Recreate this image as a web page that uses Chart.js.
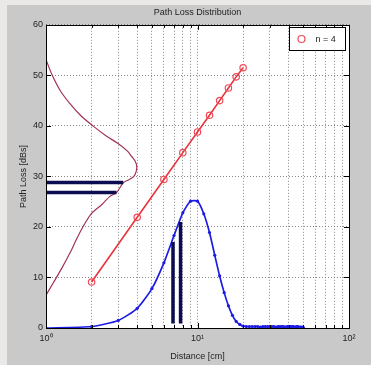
<!DOCTYPE html>
<html>
<head>
<meta charset="utf-8">
<script src="https://cdn.jsdelivr.net/npm/chart.js@4.4.1/dist/chart.umd.min.js"></script>
<style>
  html, body { margin: 0; padding: 0; background: #ebe8e8; }
  #wrap { width: 371px; height: 365px; }
</style>
</head>
<body>
<div id="wrap"><canvas id="pathLossChart" width="371" height="365"></canvas></div>
<script>
// path loss model, n = 4
const redDist = [2, 4, 6, 8, 10, 12, 14, 16, 18, 20];
const redLoss = [9.1, 21.9, 29.4, 34.7, 38.8, 42.1, 45.0, 47.5, 49.7, 51.5];

// distance distribution (blue)
const blueDist = [1, 2, 3, 4, 5, 6, 7, 8, 9, 10,
    11, 12, 13, 14, 15, 16, 17, 18, 19, 20,
    21, 22, 23, 24, 25, 26, 27, 28, 29, 30,
    31, 32, 33, 34, 35, 36, 37, 38, 39, 40,
    41, 42, 43, 44, 45, 46, 47, 48, 49, 50];
const blueVal = [0.0, 0.3, 1.5, 3.9, 7.8, 12.9, 18.3, 22.8, 25.1, 25.1,
    22.6, 18.9, 14.4, 10.3, 7.0, 4.4, 2.5, 1.3, 0.7, 0.4,
    0.3, 0.3, 0.3, 0.3, 0.3, 0.2, 0.3, 0.3, 0.3, 0.3,
    0.3, 0.3, 0.2, 0.3, 0.3, 0.3, 0.3, 0.2, 0.3, 0.3,
    0.3, 0.3, 0.3, 0.2, 0.3, 0.3, 0.2, 0.2, 0.2, 0.1];

// path loss distribution (purple), drawn sideways
const purpleLoss = [53.1, 50.0, 47.0, 44.5, 42.0, 40.0, 38.0, 36.5, 35.0, 34.0,
    33.0, 32.0, 31.0, 30.0, 29.4, 28.8, 26.8, 26.0, 24.5, 22.7,
    20.0, 17.4, 15.4, 12.0, 9.0, 6.5];
const purpleDist = [1.00, 1.10, 1.24, 1.43, 1.70, 2.04, 2.50, 2.99, 3.45, 3.66,
    3.88, 3.97, 3.94, 3.80, 3.55, 3.25, 2.92, 2.63, 2.35, 2.00,
    1.75, 1.58, 1.47, 1.28, 1.12, 1.00];

// markers
const hBarLoss = [28.8, 26.8];
const hBarReach = [3.23, 2.92];
const vBarDist = [6.89, 7.73];
const vBarTop = [17.0, 21.0];
const vBarBase = 0.9;

const xTickValues = [1, 2, 3, 4, 5, 6, 7, 8, 9, 10, 20, 30, 40, 50, 60, 70, 80, 90, 100];
const xTickLabels = { 1: '10\u2070', 10: '10\u00b9', 100: '10\u00b2' };
const yTickValues = [0, 10, 20, 30, 40, 50, 60];

const fontFamily = "'Liberation Sans', Arial, sans-serif";
const navy = '#0c0c50';

const toPoints = (xs, ys) => xs.map((v, i) => ({ x: v, y: ys[i] }));

const datasets = [];
hBarLoss.forEach((l, i) => {
    datasets.push({
        data: [{ x: 1, y: l }, { x: hBarReach[i], y: l }],
        borderColor: navy, borderWidth: 3.5, pointRadius: 0, borderCapStyle: 'butt'
    });
});
vBarDist.forEach((d, i) => {
    datasets.push({
        data: [{ x: d, y: vBarBase }, { x: d, y: vBarTop[i] }],
        borderColor: navy, borderWidth: 3.5, pointRadius: 0, borderCapStyle: 'butt'
    });
});
datasets.unshift({
    label: 'n = 4',
    data: toPoints(redDist, redLoss),
    borderColor: '#e8333a',
    borderWidth: 1.6,
    pointRadius: 3.2,
    pointBorderColor: '#ee4a5a',
    pointBackgroundColor: 'rgba(0,0,0,0)',
    pointBorderWidth: 1.2
});
datasets.push({
    data: toPoints(blueDist, blueVal),
    borderColor: '#1c1ce4',
    borderWidth: 1.7,
    pointRadius: 1.6,
    pointBorderWidth: 0,
    pointBackgroundColor: '#1c1ce4',
    tension: 0.2
});
datasets.push({
    data: toPoints(purpleDist, purpleLoss),
    borderColor: '#a03454',
    borderWidth: 1.2,
    pointRadius: 0,
    tension: 0.3
});

const backdrop = {
    id: 'backdrop',
    beforeDraw(chart) {
        const { ctx, chartArea: a } = chart;
        ctx.save();
        ctx.fillStyle = '#ebe8e8';
        ctx.fillRect(0, 0, chart.width, chart.height);
        ctx.fillStyle = '#c9c9c9';
        ctx.fillRect(7, 5, chart.width - 7, chart.height - 5);
        ctx.fillStyle = '#ffffff';
        ctx.fillRect(a.left, a.top, a.right - a.left, a.bottom - a.top);
        ctx.restore();
    }
};

const frameAndTicks = {
    id: 'frameAndTicks',
    afterDatasetsDraw(chart) {
        const { ctx, chartArea: a, scales: { x, y } } = chart;
        ctx.save();
        ctx.strokeStyle = '#000';
        ctx.lineWidth = 1;
        ctx.beginPath();
        x.ticks.forEach(t => {
            const px = Math.round(x.getPixelForValue(t.value)) + 0.5;
            const len = xTickLabels[t.value] ? 5 : 3;
            ctx.moveTo(px, a.bottom); ctx.lineTo(px, a.bottom - len);
            ctx.moveTo(px, a.top); ctx.lineTo(px, a.top + len);
        });
        y.ticks.forEach(t => {
            const py = Math.round(y.getPixelForValue(t.value)) + 0.5;
            ctx.moveTo(a.left, py); ctx.lineTo(a.left + 5, py);
            ctx.moveTo(a.right, py); ctx.lineTo(a.right - 5, py);
        });
        ctx.stroke();
        ctx.strokeRect(Math.round(a.left) + 0.5, Math.round(a.top) + 0.5,
            Math.round(a.right - a.left), Math.round(a.bottom - a.top));

        // legend box
        const ds = chart.data.datasets[0];
        const bx = Math.round(a.right) - 59.5, by = Math.round(a.top) + 2.5, bw = 56, bh = 23;
        ctx.fillStyle = '#fff';
        ctx.fillRect(bx, by, bw, bh);
        ctx.strokeRect(bx, by, bw, bh);
        ctx.beginPath();
        ctx.strokeStyle = ds.pointBorderColor;
        ctx.lineWidth = 1.2;
        ctx.arc(bx + 12, by + bh / 2, 3.5, 0, Math.PI * 2);
        ctx.stroke();
        ctx.fillStyle = '#222';
        ctx.font = '9px ' + fontFamily;
        ctx.textBaseline = 'middle';
        ctx.fillText(ds.label, bx + 26, by + bh / 2 + 0.5);
        ctx.restore();
    }
};

new Chart(document.getElementById('pathLossChart'), {
    type: 'line',
    data: { datasets: datasets },
    plugins: [backdrop, frameAndTicks],
    options: {
        responsive: false,
        animation: false,
        layout: { padding: { left: 0, right: 22, top: 0, bottom: 0 } },
        plugins: {
            legend: { display: false },
            tooltip: { enabled: false },
            title: {
                display: true,
                text: 'Path Loss Distribution',
                fullSize: false,
                color: '#222',
                font: { family: fontFamily, size: 9, weight: 'normal' },
                padding: { top: 7, bottom: 7 }
            }
        },
        scales: {
            x: {
                type: 'logarithmic',
                min: 1,
                max: 100,
                afterFit: s => { s.height = 37; },
                afterBuildTicks: s => { s.ticks = xTickValues.map(v => ({ value: v })); },
                ticks: {
                    autoSkip: false,
                    maxRotation: 0,
                    padding: 5,
                    color: '#222',
                    font: { family: fontFamily, size: 9 },
                    callback: v => xTickLabels[v] || ''
                },
                grid: { color: '#6a6a6a', lineWidth: 0.8, drawTicks: false },
                border: { display: false, dash: [1, 2] },
                title: {
                    display: true,
                    text: 'Distance [cm]',
                    color: '#222',
                    font: { family: fontFamily, size: 9 },
                    padding: { top: 0, bottom: 2.6 }
                }
            },
            y: {
                type: 'linear',
                min: 0,
                max: 60,
                afterFit: s => { s.width = 46; },
                afterBuildTicks: s => { s.ticks = yTickValues.map(v => ({ value: v })); },
                ticks: {
                    padding: 3,
                    color: '#222',
                    font: { family: fontFamily, size: 9 }
                },
                grid: { color: '#6a6a6a', lineWidth: 0.8, drawTicks: false },
                border: { display: false, dash: [1, 2] },
                title: {
                    display: true,
                    text: 'Path Loss [dBs]',
                    color: '#222',
                    font: { family: fontFamily, size: 9 },
                    padding: { top: 18.6, bottom: 0 }
                }
            }
        }
    }
});
</script>
</body>
</html>
